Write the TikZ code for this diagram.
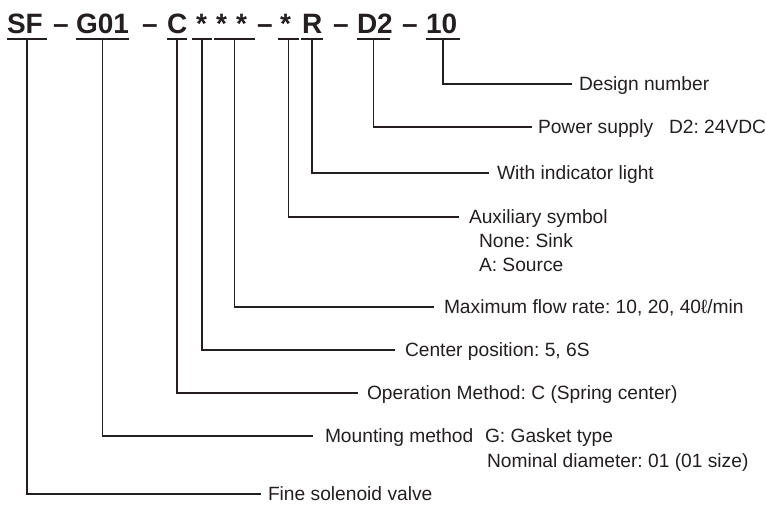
\documentclass[tikz,border=0pt]{standalone}
\usepackage{fontspec}
\setmainfont{Liberation Sans}
\usetikzlibrary{calc}
\definecolor{ink}{HTML}{231F20}
\frenchspacing
\begin{document}
\begin{tikzpicture}[x=1pt,y=-1pt,
  every node/.style={inner sep=0pt, outer sep=0pt, text=ink},
  code/.style={font=\fontsize{28}{28}\selectfont\bfseries, anchor=base west},
  desc/.style={font=\fontsize{19.2}{21}\selectfont, anchor=west, text height=13.75pt, text depth=0pt},
  lead/.style={draw=ink, line width=1.1pt},
  uline/.style={draw=ink, line width=1.3pt}]
\useasboundingbox (0,0) rectangle (766,509);

% code tokens
\node[code] (sf)  at (7,33)   {SF};
\node[code] (m1)  at (53,33)  {–};
\node[code] (g01) at (76,33)  {G01};
\node[code] (m2)  at (142,33) {–};
\node[code] (cc)  at (167,33) {C};
\node[code] (s1)  at (196,33) {*};
\node[code] (s2)  at (216,33) {*};
\node[code] (s3)  at (236,33) {*};
\node[code] (m3)  at (257,33) {–};
\node[code] (s4)  at (280,33) {*};
\node[code] (rr)  at (302,33) {R};
\node[code] (m4)  at (333,33) {–};
\node[code] (dd)  at (357,33) {D2};
\node[code] (m5)  at (402,33) {–};
\node[code] (ten) at (426,33) {10};

% underline end points
\coordinate (uSFa) at (7,39);   \coordinate (uSFb) at (47,39);
\coordinate (uGa)  at (76,39);  \coordinate (uGb)  at (129,39);
\coordinate (uCa)  at (167,39); \coordinate (uCb)  at (187,39);
\coordinate (uS1a) at (192,39); \coordinate (uS1b) at (212,39);
\coordinate (uS2a) at (214,39); \coordinate (uS2b) at (255,39);
\coordinate (uS4a) at (278,39); \coordinate (uS4b) at (299,39);
\coordinate (uRa)  at (301,39); \coordinate (uRb)  at (323,39);
\coordinate (uDa)  at (357,39); \coordinate (uDb)  at (390,39);
\coordinate (uTa)  at (426,39); \coordinate (uTb)  at (460,39);

\foreach \u in {SF,G,C,S1,S2,S4,R,D,T}{
  \draw[uline] (u\u a) -- (u\u b);
}

% descriptions
\node[desc] (t10)   at (579,84)  {Design number};
\node[desc] (tD2)   at (538,127) {Power supply};
\node[desc] (tD2b)  at (669,127) {D2: 24VDC};
\node[desc] (tR)    at (497,173) {With indicator light};
\node[desc] (tAux)  at (469,217) {Auxiliary symbol};
\node[desc] (tNone) at (479,241) {None: Sink};
\node[desc] (tA)    at (479,265) {A: Source};
\node[desc] (tMax)  at (444,307) {Maximum flow rate: 10, 20, 40ℓ/min};
\node[desc] (tCen)  at (405,350) {Center position: 5, 6S};
\node[desc] (tOp)   at (367,393) {Operation Method: C (Spring center)};
\node[desc] (tMnt)  at (325,436) {Mounting method};
\node[desc] (tG)    at (485,436) {G: Gasket type};
\node[desc] (tNom)  at (487,461) {Nominal diameter: 01 (01 size)};
\node[desc] (tSF)   at (268,494) {Fine solenoid valve};

% leader lines
\draw[lead] ($(uTa)!0.5!(uTb)$)   |- ([xshift=-7pt]t10.west);
\draw[lead] ($(uDa)!0.5!(uDb)$)   |- ([xshift=-6pt]tD2.west);
\draw[lead] ($(uRa)!0.5!(uRb)$)   |- ([xshift=-8pt]tR.west);
\draw[lead] ($(uS4a)!0.5!(uS4b)$) |- ([xshift=-10pt]tAux.west);
\draw[lead] ($(uS2a)!0.5!(uS2b)$) |- ([xshift=-10pt]tMax.west);
\draw[lead] ($(uS1a)!0.5!(uS1b)$) |- ([xshift=-10pt]tCen.west);
\draw[lead] ($(uCa)!0.5!(uCb)$)   |- ([xshift=-9pt]tOp.west);
\draw[lead] ($(uGa)!0.5!(uGb)$)   |- ([xshift=-12pt]tMnt.west);
\draw[lead] ($(uSFa)!0.5!(uSFb)$) |- ([xshift=-7pt]tSF.west);
\end{tikzpicture}
\end{document}
